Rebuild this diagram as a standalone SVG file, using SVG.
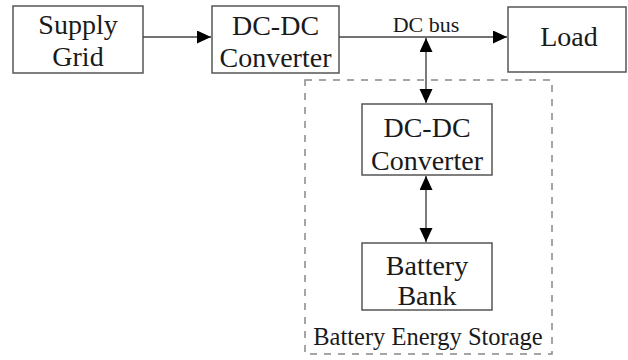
<svg xmlns="http://www.w3.org/2000/svg" width="628" height="360" viewBox="0 0 628 360">
  <style>
    .box { fill: #ffffff; stroke: #555555; stroke-width: 1.5; }
    .lbl { font-family: "Liberation Serif", "Times New Roman", serif; font-size: 28px; fill: #1a1a1a; text-anchor: middle; }
    .small { font-family: "Liberation Serif", "Times New Roman", serif; font-size: 22px; fill: #1a1a1a; text-anchor: middle; }
    .conn { stroke: #444444; stroke-width: 1.4; fill: none; }
    .group { fill: none; stroke: #888888; stroke-width: 1.5; stroke-dasharray: 7 7; }
  </style>
  <defs>
    <marker id="arrow" markerUnits="userSpaceOnUse" markerWidth="15" markerHeight="14" refX="14" refY="6.5" orient="auto-start-reverse">
      <path d="M0,0 L14,6.5 L0,13 z" fill="#000000"/>
    </marker>
  </defs>
  <rect fill="#ffffff" x="0" y="0" width="628" height="360"/>

  <g id="battery-energy-storage">
    <rect class="group" x="305" y="80" width="247" height="274"/>
    <text class="small" x="428" y="345" style="font-size:24.5px">Battery Energy Storage</text>
  </g>

  <g id="supply-grid">
    <rect class="box" x="13" y="6" width="130" height="67"/>
    <text class="lbl" x="78" y="34">Supply</text>
    <text class="lbl" x="78" y="66">Grid</text>
  </g>

  <g id="dcdc-top">
    <rect class="box" x="212" y="6" width="127" height="67"/>
    <text class="lbl" x="275.5" y="35">DC-DC</text>
    <text class="lbl" x="275.5" y="67">Converter</text>
  </g>

  <g id="load">
    <rect class="box" x="508" y="7" width="118" height="65"/>
    <text class="lbl" x="569" y="46">Load</text>
  </g>

  <g id="dcdc-bottom">
    <rect class="box" x="362" y="104" width="130" height="71"/>
    <text class="lbl" x="427" y="137">DC-DC</text>
    <text class="lbl" x="427" y="170">Converter</text>
  </g>

  <g id="battery-bank">
    <rect class="box" x="362" y="243" width="130" height="67"/>
    <text class="lbl" x="427" y="275">Battery</text>
    <text class="lbl" x="427" y="305">Bank</text>
  </g>

  <g id="connectors">
    <line class="conn" x1="143" y1="37" x2="211" y2="37" marker-end="url(#arrow)"/>
    <line class="conn" x1="339" y1="37" x2="507" y2="37" marker-end="url(#arrow)"/>
    <line class="conn" x1="426" y1="38" x2="426" y2="103" marker-start="url(#arrow)" marker-end="url(#arrow)"/>
    <line class="conn" x1="426" y1="176" x2="426" y2="242" marker-start="url(#arrow)" marker-end="url(#arrow)"/>
    <text class="small" x="426" y="32">DC bus</text>
  </g>
</svg>
